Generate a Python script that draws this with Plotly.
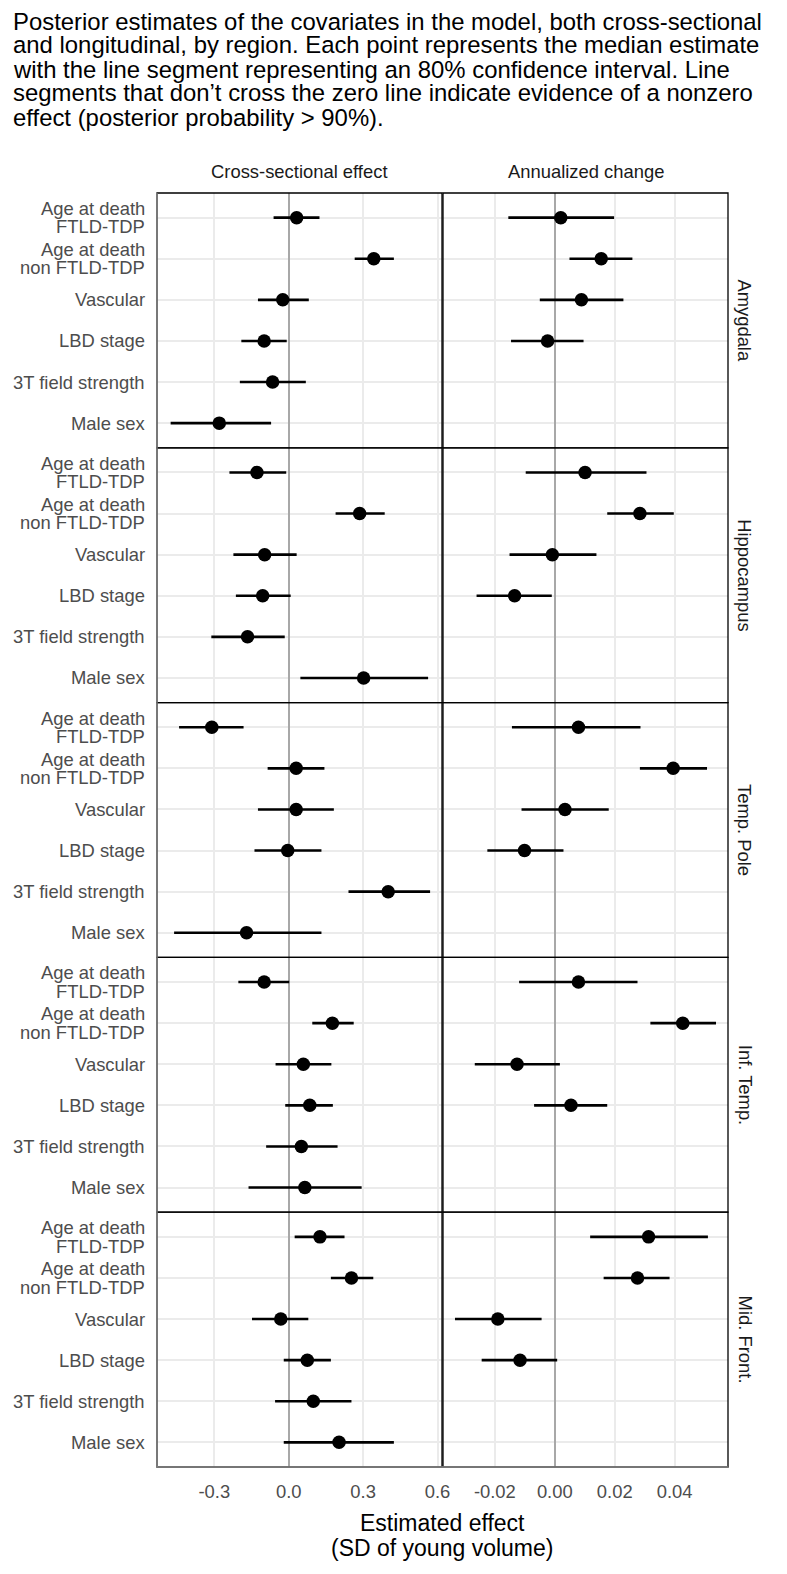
import plotly.graph_objects as go
from plotly.subplots import make_subplots

# ---------------- data ----------------
regions = ["Amygdala", "Hippocampus", "Temp. Pole", "Inf. Temp.", "Mid. Front."]
covariates = ["Age at death<br>FTLD-TDP", "Age at death<br>non FTLD-TDP", "Vascular",
              "LBD stage", "3T field strength", "Male sex"]
column_titles = ["Cross-sectional effect", "Annualized change"]

# cross-sectional effect (median, 10% and 90% quantiles), one list per region
cs_median = [
    [0.032, 0.343, -0.024, -0.099, -0.065, -0.280],
    [-0.128, 0.286, -0.097, -0.105, -0.166, 0.302],
    [-0.310, 0.030, 0.030, -0.004, 0.401, -0.170],
    [-0.099, 0.176, 0.059, 0.085, 0.051, 0.065],
    [0.126, 0.253, -0.032, 0.075, 0.099, 0.203],
]
cs_lower = [
    [-0.061, 0.266, -0.124, -0.191, -0.197, -0.476],
    [-0.239, 0.189, -0.223, -0.213, -0.312, 0.047],
    [-0.442, -0.085, -0.124, -0.138, 0.241, -0.462],
    [-0.203, 0.095, -0.053, -0.014, -0.091, -0.162],
    [0.024, 0.170, -0.148, -0.020, -0.055, -0.020],
]
cs_upper = [
    [0.124, 0.424, 0.081, -0.008, 0.069, -0.071],
    [-0.010, 0.387, 0.032, 0.008, -0.016, 0.562],
    [-0.182, 0.144, 0.182, 0.132, 0.570, 0.132],
    [0.002, 0.262, 0.172, 0.178, 0.197, 0.294],
    [0.225, 0.341, 0.079, 0.170, 0.253, 0.424],
]

# annualized change (only the first four covariates)
ann_median = [
    [0.0020, 0.0155, 0.0089, -0.0024],
    [0.0101, 0.0284, -0.0008, -0.0134],
    [0.0079, 0.0395, 0.0034, -0.0101],
    [0.0079, 0.0427, -0.0126, 0.0054],
    [0.0313, 0.0276, -0.0190, -0.0116],
]
ann_lower = [
    [-0.0155, 0.0049, -0.0050, -0.0146],
    [-0.0097, 0.0175, -0.0151, -0.0261],
    [-0.0143, 0.0284, -0.0111, -0.0225],
    [-0.0119, 0.0319, -0.0267, -0.0069],
    [0.0118, 0.0163, -0.0333, -0.0244],
]
ann_upper = [
    [0.0198, 0.0259, 0.0229, 0.0096],
    [0.0306, 0.0397, 0.0139, -0.0010],
    [0.0286, 0.0508, 0.0180, 0.0029],
    [0.0276, 0.0538, 0.0017, 0.0175],
    [0.0511, 0.0383, -0.0044, 0.0008],
]

cs_ticks = [-0.3, 0.0, 0.3, 0.6]
cs_ticktext = ["-0.3", "0.0", "0.3", "0.6"]
ann_ticks = [-0.02, 0.0, 0.02, 0.04]
ann_ticktext = ["-0.02", "0.00", "0.02", "0.04"]

# ---------------- layout constants ----------------
# the page body has an 8px default margin, so the figure is drawn 8px smaller
# and every page position below is expressed relative to that offset
OFF = 8
W, H = 787 - 2 * OFF, 1574 - 2 * OFF
PLOT_L, PLOT_R, PLOT_T, PLOT_B = 157 - OFF, 728 - OFF, 193 - OFF, 1467 - OFF
ML, MR, MT, MB = PLOT_L, W - PLOT_R, PLOT_T, H - PLOT_B
PW, PH = W - ML - MR, H - MT - MB
FONT = "Liberation Sans, Arial, Helvetica, sans-serif"
TICK_SIZE = 18.4
GRID = "#EBEBEB"


def px_x(x):
    return (x - OFF - ML) / PW


def px_y(y):
    return (PLOT_B - (y - OFF)) / PH


def axname(prefix, idx):
    return prefix if idx == 1 else f"{prefix}{idx}"


fig = make_subplots(rows=5, cols=2, horizontal_spacing=1.0 / PW, vertical_spacing=0.0)

n_rows = len(regions)
for r in range(n_rows):
    for c in range(2):
        if c == 0:
            med, lo, hi = cs_median[r], cs_lower[r], cs_upper[r]
        else:
            med, lo, hi = ann_median[r], ann_lower[r], ann_upper[r]
        ys = list(range(len(med)))
        fig.add_trace(
            go.Scatter(
                x=med, y=ys, mode="markers",
                marker=dict(color="black", size=13.5),
                error_x=dict(type="data", symmetric=False,
                             array=[h - m for h, m in zip(hi, med)],
                             arrayminus=[m - l for m, l in zip(med, lo)],
                             width=0, thickness=2.6, color="black"),
                showlegend=False, hoverinfo="skip",
            ),
            row=r + 1, col=c + 1,
        )
        fig.update_xaxes(
            range=[-0.531, 0.618] if c == 0 else [-0.0373, 0.0578],
            tickvals=cs_ticks if c == 0 else ann_ticks,
            ticktext=cs_ticktext if c == 0 else ann_ticktext,
            showticklabels=(r == n_rows - 1),
            ticks="outside" if r == n_rows - 1 else "", ticklen=8,
            tickcolor="rgba(0,0,0,0)",
            tickfont=dict(family=FONT, size=TICK_SIZE, color="#4D4D4D"),
            showgrid=True, gridcolor=GRID, gridwidth=1.6,
            zeroline=True, zerolinecolor="#A8A8A8", zerolinewidth=1.8,
            showline=False,
            row=r + 1, col=c + 1,
        )
        fig.update_yaxes(
            range=[5.6, -0.6], tickvals=list(range(6)),
            showticklabels=False, showgrid=True, gridcolor=GRID, gridwidth=1.6,
            zeroline=False, showline=False,
            row=r + 1, col=c + 1,
        )

annotations = []
shapes = []

# panel borders
for i in range(1, 2 * n_rows + 1):
    shapes.append(dict(type="rect", xref=f"{axname('x', i)} domain",
                       yref=f"{axname('y', i)} domain",
                       x0=0, x1=1, y0=0, y1=1, line=dict(color="black", width=1.3),
                       layer="above"))
# lighter outer left and bottom edges
shapes.append(dict(type="line", xref="paper", yref="paper", x0=0, x1=0, y0=0, y1=1,
                   line=dict(color="#8A8A8A", width=1.3), layer="above"))
shapes.append(dict(type="line", xref="paper", yref="paper", x0=0, x1=1, y0=0, y1=0,
                   line=dict(color="#8A8A8A", width=1.3), layer="above"))

# y category labels (drawn as annotations to get ggplot-like tight line spacing)
for r in range(n_rows):
    yref = axname("y", 2 * r + 1)
    for k, lab in enumerate(covariates):
        parts = lab.split("<br>")
        offs = [0.0] if len(parts) == 1 else [9.2, -9.2]
        for part, off in zip(parts, offs):
            annotations.append(dict(
                text=part, xref="paper", yref=yref, x=0, y=k, xanchor="right",
                yanchor="middle", xshift=-10, yshift=off, showarrow=False,
                font=dict(family=FONT, size=TICK_SIZE, color="#4D4D4D")))

# column strip titles
for c, t in enumerate(column_titles):
    annotations.append(dict(
        text=t, xref=f"{axname('x', c + 1)} domain", yref="paper", x=0.5,
        y=px_y(171),
        xanchor="center", yanchor="middle", showarrow=False,
        font=dict(family=FONT, size=TICK_SIZE, color="#1A1A1A")))

# row strip titles
for r, reg in enumerate(regions):
    yref = axname("y", 2 * r + 1)
    annotations.append(dict(
        text=reg, xref="paper", yref=f"{yref} domain", x=px_x(745), y=0.5,
        xanchor="center", yanchor="middle", textangle=90, showarrow=False,
        font=dict(family=FONT, size=TICK_SIZE, color="#1A1A1A")))

# x-axis title
for txt, ypx in [("Estimated effect", 1523), ("(SD of young volume)", 1548)]:
    annotations.append(dict(
        text=txt, xref="paper", yref="paper", x=px_x(442), y=px_y(ypx),
        xanchor="center", yanchor="middle", showarrow=False,
        font=dict(family=FONT, size=23, color="black")))

# caption / title
title_lines = [
    "Posterior estimates of the covariates in the model, both cross-sectional",
    "and longitudinal, by region. Each point represents the median estimate",
    "with the line segment representing an 80% confidence interval. Line",
    "segments that don\u2019t cross the zero line indicate evidence of a nonzero",
    "effect (posterior probability > 90%).",
]
for i, line in enumerate(title_lines):
    ypx = 21 + 24 * i
    annotations.append(dict(
        text=line, xref="paper", yref="paper", x=px_x(12), y=px_y(ypx),
        xanchor="left", yanchor="middle", showarrow=False, xshift=-1,
        font=dict(family=FONT, size=23.9, color="black")))

fig.update_layout(
    width=W, height=H,
    margin=dict(l=ML, r=MR, t=MT, b=MB),
    paper_bgcolor="white", plot_bgcolor="white",
    annotations=annotations, shapes=shapes,
    font=dict(family=FONT),
)

fig.write_html("out.html")
